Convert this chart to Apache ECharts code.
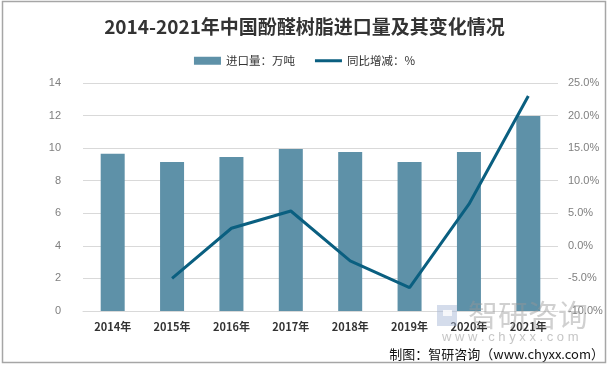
<!DOCTYPE html>
<html><head><meta charset="utf-8">
<script src="https://cdn.jsdelivr.net/npm/echarts@6/dist/echarts.min.js"></script>
<style>html,body{margin:0;padding:0;background:#fff}#c{width:609px;height:366px}</style>
</head><body><div id="c"></div>
<script>
const categories = ['2014年','2015年','2016年','2017年','2018年','2019年','2020年','2021年'];
const importVolume = [9.65, 9.15, 9.45, 9.95, 9.77, 9.15, 9.77, 11.98];
const yoyChange = [null, -5.0, 2.7, 5.35, -2.3, -6.4, 6.4, 23.0];
const leftTicks = [0, 14, 2];
const rightTicks = [-10, 25, 5];

const chart = echarts.init(document.getElementById('c'), null, {renderer:'canvas'});
chart.setOption({
  animation:false,
  title:{text:'2014-2021年中国酚醛树脂进口量及其变化情况', left:'center', top:12,
    textStyle:{fontSize:19, fontWeight:'bold', color:'#333', fontFamily:'"Noto Sans CJK SC", sans-serif'}},
  legend:{top:50, left:'center', itemGap:20, itemWidth:27, itemHeight:8,
    textStyle:{fontSize:11.5, color:'#333', fontFamily:'"Noto Sans CJK SC", sans-serif'},
    data:[{name:'进口量：万吨', icon:'rect'},{name:'同比增减：%', icon:'path://M0,0 L27,0 L27,3 L0,3 Z', itemStyle:{color:'#0a5f80'}}]},
  grid:{left:83, right:51, top:83, bottom:55, containLabel:false},
  xAxis:{type:'category', data:categories,
    axisLine:{lineStyle:{color:'#d9d9d9'}}, axisTick:{show:false},
    axisLabel:{color:'#333', fontSize:11, fontWeight:'bold', margin:10, fontFamily:'"Noto Sans CJK SC", sans-serif'}},
  yAxis:[
    {type:'value', min:leftTicks[0], max:leftTicks[1], interval:leftTicks[2],
     axisLine:{show:false}, axisTick:{show:false},
     splitLine:{lineStyle:{color:'#d9d9d9'}},
     axisLabel:{color:'#7f7f7f', fontSize:11, margin:22, fontFamily:'"Liberation Sans", sans-serif'}},
    {type:'value', min:rightTicks[0], max:rightTicks[1], interval:rightTicks[2],
     axisLine:{show:false}, axisTick:{show:false}, splitLine:{show:false},
     axisLabel:{color:'#7f7f7f', fontSize:11, margin:10, formatter:v=>v.toFixed(1)+'%', fontFamily:'"Liberation Sans", sans-serif'}}
  ],
  series:[
    {name:'进口量：万吨', type:'bar', data:importVolume, barWidth:24, itemStyle:{color:'#5e91a8'}},
    {name:'同比增减：%', type:'line', yAxisIndex:1, data:yoyChange, symbol:'none',
     lineStyle:{width:3, color:'#0a5f80'}, itemStyle:{color:'#0a5f80'}}
  ],
  graphic:[
    {type:'rect', shape:{x:2.5, y:1.5, width:603, height:361}, style:{fill:'none', stroke:'#a6a6a6', lineWidth:1.5}, silent:true, z:100},
    {type:'rect', shape:{x:437, y:305, width:20, height:21}, style:{fill:'rgba(170,185,215,0.5)'}, silent:true, z:100},
    {type:'rect', shape:{x:443, y:310, width:9, height:6}, style:{fill:'rgba(255,255,255,0.8)'}, silent:true, z:101},
    {type:'text', x:468, y:300, style:{text:'智研咨询', font:'30px "Noto Sans CJK SC", sans-serif', fill:'rgba(150,150,150,0.45)'}, silent:true, z:100},
    {type:'text', left:442, top:331, style:{text:'w w w . c h y x x . c o m', fontSize:13, fontFamily:'"Liberation Sans", sans-serif', fill:'rgba(140,140,140,0.5)'}, silent:true, z:100},
    {type:'text', right:5, top:348, style:{text:'制图：智研咨询（www.chyxx.com）', font:'13px "Noto Sans CJK SC", sans-serif', fill:'#111'}}
  ]
});
</script></body></html>
